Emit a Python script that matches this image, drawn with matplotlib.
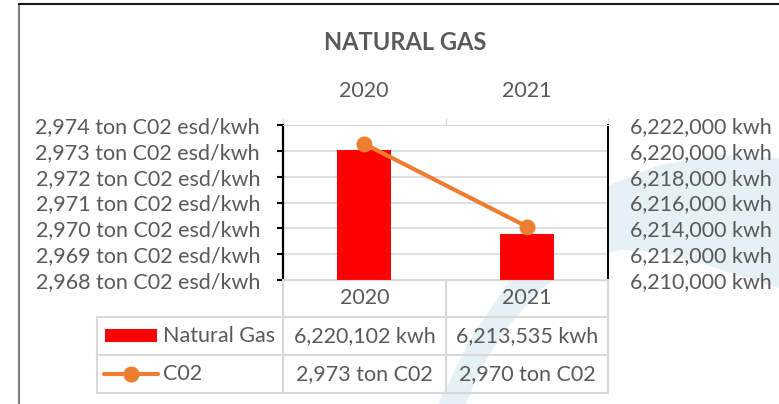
import numpy as np
import matplotlib.pyplot as plt
from matplotlib.lines import Line2D
from matplotlib.patches import Rectangle, Polygon
from matplotlib.ticker import FuncFormatter

years = ["2020", "2021"]
gas_kwh = [6220102, 6213535]
co2_ton = [2973.27, 2970.07]
co2_ticks = [2968, 2969, 2970, 2971, 2972, 2973, 2974]
kwh_ticks = [6210000, 6212000, 6214000, 6216000, 6218000, 6220000, 6222000]

W, H = 779, 404
GRAY = "#595959"
GRID = "#d9d9d9"
RED = "#ff0000"
ORANGE = "#ed7d31"
FS = 15.5

plt.rcParams['font.family'] = ['Lato', 'DejaVu Sans']


def fx(x):
    return x / W


def fy(y):
    return 1 - y / H


fig = plt.figure(figsize=(W / 100, H / 100), dpi=100)

# faint swoosh in the background
outer = [(438, 404), (470, 340), (510, 280), (560, 225), (610, 185), (660, 165),
         (720, 155), (779, 158)]
inner = [(779, 288), (740, 276), (700, 263), (660, 252), (620, 250), (580, 262),
         (540, 290), (505, 330), (480, 370), (466, 404)]
fig.add_artist(Polygon([(fx(x), fy(y)) for x, y in outer + inner], closed=True,
                       transform=fig.transFigure, facecolor="#e6f1f5",
                       edgecolor="none", zorder=0))

# outer frame
fig.add_artist(Line2D([fx(19), fx(19)], [fy(4), fy(404)], color="#7f7f7f", lw=1.5))
fig.add_artist(Line2D([fx(19), fx(779)], [fy(4), fy(4)], color="#1a1a1a", lw=1.5))

left, right, top, bottom = 283, 608, 125, 280
ax2 = fig.add_axes([fx(left), fy(bottom), fx(right - left), (bottom - top) / H])
ax = ax2.twinx()
ax.yaxis.tick_left()
ax2.yaxis.tick_right()
ax.set_zorder(ax2.get_zorder() + 1)
ax.patch.set_visible(False)
ax2.set_facecolor("white")

x = np.arange(len(years))

# bars on the kwh axis (right)
ax2.bar(x, gas_kwh, width=0.33, color=RED, zorder=3)
ax2.set_ylim(kwh_ticks[0], kwh_ticks[-1])
ax2.set_yticks(kwh_ticks)
ax2.yaxis.set_major_formatter(FuncFormatter(lambda v, p: f"{v:,.0f} kwh"))
ax2.yaxis.grid(True, color=GRID, lw=1.2, zorder=0)
ax2.tick_params(axis="y", length=0, pad=16, labelsize=FS, labelcolor=GRAY)

# line on the C02 axis (left)
ax.plot(x, co2_ton, color=ORANGE, lw=3, marker="o", markersize=10.5, zorder=4)
ax.set_ylim(co2_ticks[0], co2_ticks[-1])
ax.set_yticks(co2_ticks)
ax.yaxis.set_major_formatter(FuncFormatter(lambda v, p: f"{v:,.0f} ton C02 esd/kwh"))
ax.tick_params(axis="y", direction="out", length=4.5, width=1.5, color="black",
               pad=12, labelsize=FS, labelcolor=GRAY)

for a in (ax, ax2):
    a.set_xlim(-0.5, 1.5)

# category labels along the top
ax2.set_xticks(x)
ax2.set_xticklabels(years)
ax2.xaxis.tick_top()
ax2.tick_params(axis="x", which="major", length=0, pad=17, labelsize=FS, labelcolor=GRAY)
ax2.set_xticks([-0.5, 0.5, 1.5], minor=True)
ax2.tick_params(axis="x", which="minor", top=True, bottom=False, length=5,
                width=1, color=GRID, direction="out")

for a in (ax, ax2):
    a.spines["top"].set_color(GRID)
    a.spines["bottom"].set_color(GRID)
    a.spines["left"].set_visible(False)
    a.spines["right"].set_visible(False)
ax.spines["left"].set_visible(True)
ax.spines["left"].set_color("black")
ax.spines["left"].set_linewidth(1.6)
ax2.spines["right"].set_visible(True)
ax2.spines["right"].set_color("black")
ax2.spines["right"].set_linewidth(1.4)

fig.text(fx(405), fy(43), "NATURAL GAS", ha="center", va="center",
         fontsize=17, fontweight="bold", color=GRAY)

# data table below the plot
col_edges = [283, 446, 608]
row_edges = [317, 355, 393]
for cx in col_edges:
    fig.add_artist(Line2D([fx(cx), fx(cx)], [fy(bottom), fy(393)], color=GRID, lw=1.5))
fig.add_artist(Line2D([fx(97), fx(97)], [fy(317), fy(393)], color=GRID, lw=1.5))
for ry in row_edges:
    fig.add_artist(Line2D([fx(97), fx(608)], [fy(ry), fy(ry)], color=GRID, lw=1.5))

centers = [(col_edges[i] + col_edges[i + 1]) / 2 for i in range(len(years))]
for cx, yr in zip(centers, years):
    fig.text(fx(cx), fy(298), yr, ha="center", va="center", fontsize=FS, color=GRAY)
for cx, v in zip(centers, gas_kwh):
    fig.text(fx(cx), fy(336), f"{v:,.0f} kwh", ha="center", va="center",
             fontsize=FS, color=GRAY)
for cx, v in zip(centers, co2_ton):
    fig.text(fx(cx), fy(374), f"{v:,.0f} ton C02", ha="center", va="center",
             fontsize=FS, color=GRAY)

# legend keys
fig.add_artist(Rectangle((fx(105), fy(342)), fx(52), (342 - 329) / H,
                         transform=fig.transFigure, facecolor=RED, edgecolor="none"))
fig.text(fx(163), fy(336), "Natural Gas", ha="left", va="center", fontsize=FS, color=GRAY)
fig.add_artist(Line2D([fx(104), fx(158)], [fy(374), fy(374)], color=ORANGE, lw=3,
                      solid_capstyle="round"))
fig.add_artist(Line2D([fx(131)], [fy(374)], color=ORANGE, marker="o", markersize=10.5))
fig.text(fx(163), fy(374), "C02", ha="left", va="center", fontsize=FS, color=GRAY)

fig.savefig("out.png", dpi=100)
